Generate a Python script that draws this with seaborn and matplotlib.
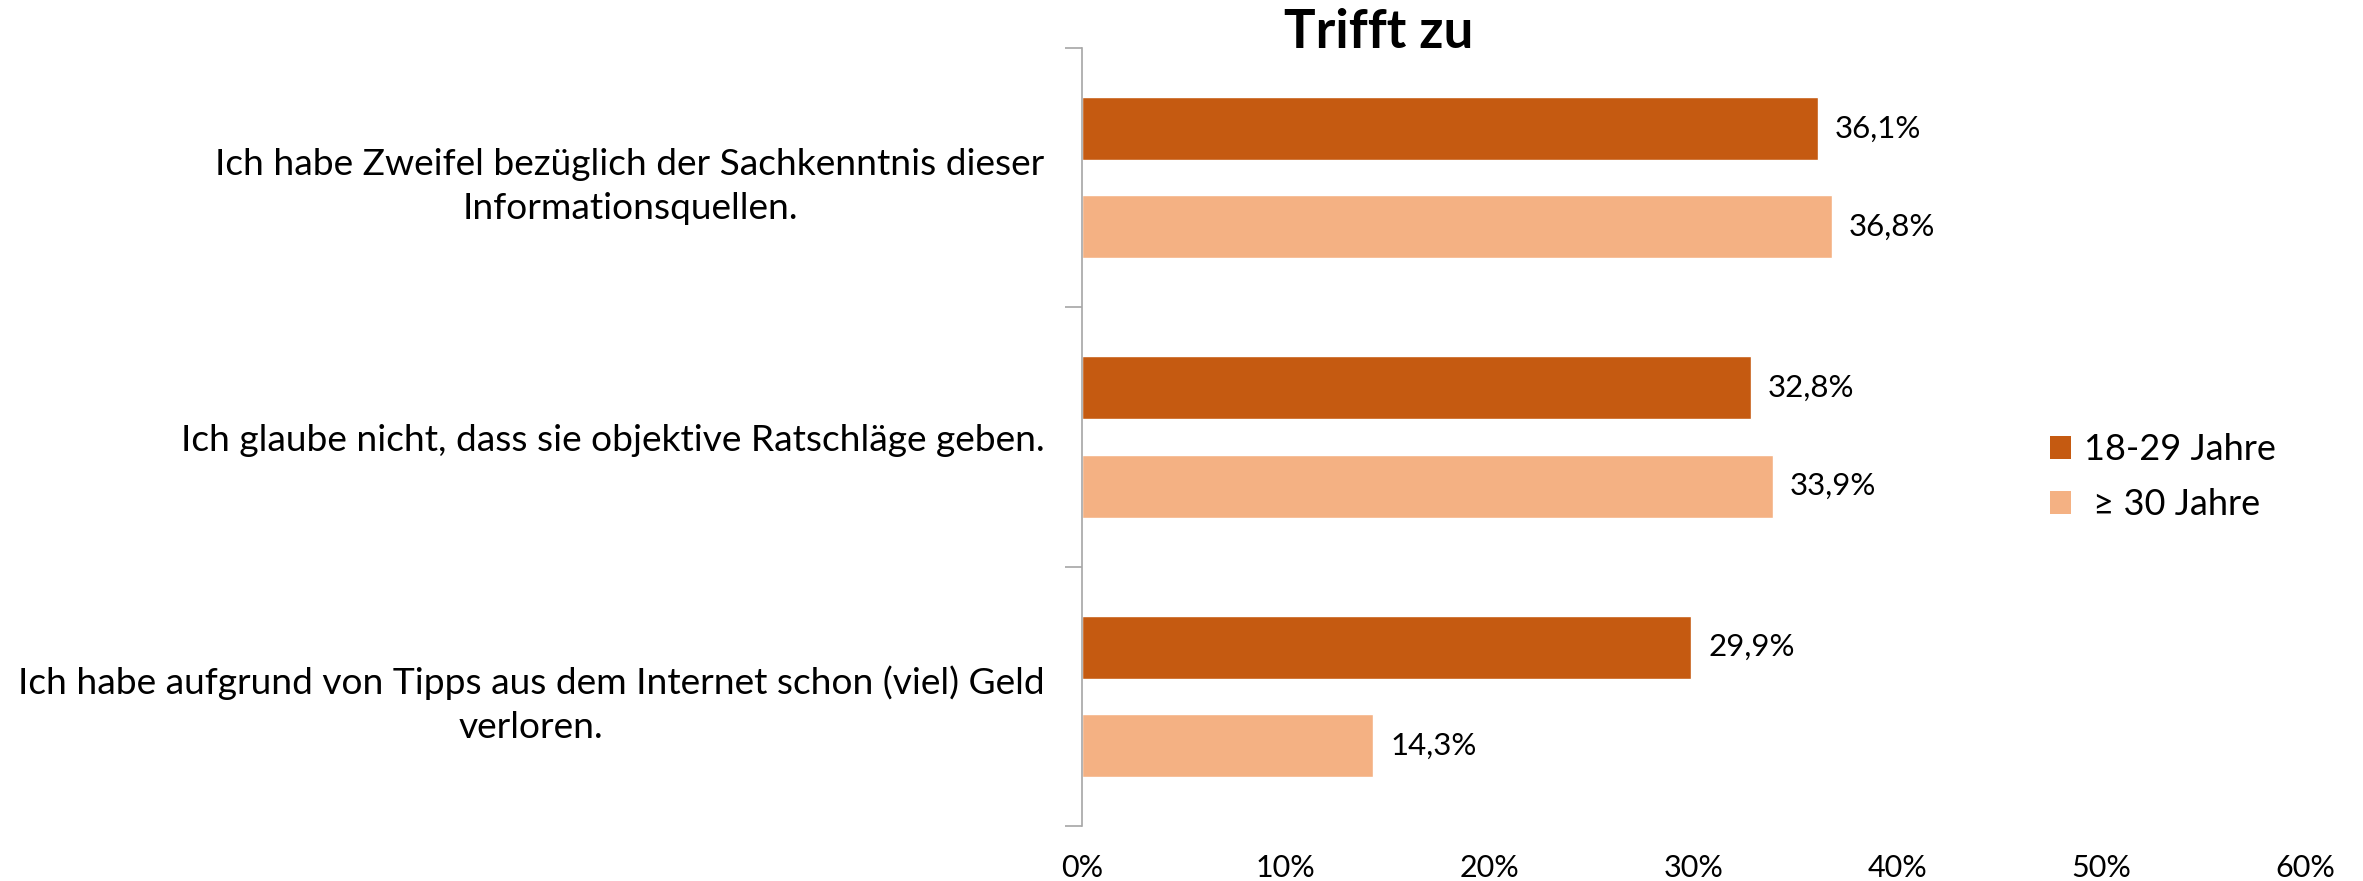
import matplotlib
matplotlib.use("Agg")
import matplotlib.pyplot as plt
import seaborn as sns
import pandas as pd
from matplotlib.patches import Patch
from matplotlib.ticker import FixedLocator

categories = [
    "Ich habe Zweifel bezüglich der Sachkenntnis dieser\nInformationsquellen.",
    "Ich glaube nicht, dass sie objektive Ratschläge geben.",
    "Ich habe aufgrund von Tipps aus dem Internet schon (viel) Geld\nverloren.",
]
groups = ["18-29 Jahre", "≥ 30 Jahre"]
legend_labels = ["18-29 Jahre", " ≥ 30 Jahre"]
values_young = [36.1, 32.8, 29.9]
values_old = [36.8, 33.9, 14.3]
xticks = [0, 10, 20, 30, 40, 50, 60]
title = "Trifft zu"
colors = ["#C55A11", "#F4B183"]

rows = []
for c, a, b in zip(categories, values_young, values_old):
    rows.append({"cat": c, "grp": groups[0], "val": a})
    rows.append({"cat": c, "grp": groups[1], "val": b})
df = pd.DataFrame(rows)

sns.set_style("white")
plt.rcParams["font.family"] = ["Lato", "DejaVu Sans"]
plt.rcParams["text.color"] = "black"
plt.rcParams["xtick.labelcolor"] = "black"
plt.rcParams["ytick.labelcolor"] = "black"

fig = plt.figure(figsize=(23.63, 8.81), dpi=100)
ax = fig.add_axes([1082 / 2363, 1 - 826 / 881, (2305 - 1082) / 2363, (826 - 48) / 881])

sns.barplot(data=df, y="cat", x="val", hue="grp", hue_order=groups, order=categories,
            palette=colors, orient="h", width=0.758, gap=0.359, saturation=1,
            legend=False, ax=ax)

for cont in ax.containers:
    ax.bar_label(cont, labels=[f"{v:.1f}%".replace(".", ",") for v in cont.datavalues],
                 padding=12, fontsize=22.5, color="black")

ax.set_xlim(0, 60)
ax.set_ylim(2.5, -0.5)
ax.set_xticks(xticks)
ax.set_xticklabels([f"{t}%" for t in xticks], fontsize=22)
ax.tick_params(axis="x", length=0, pad=20)
ax.set_xlabel("")
ax.set_ylabel("")

ax.set_yticks(range(len(categories)))
ax.set_yticklabels(categories, fontsize=26.7, ha="right", multialignment="center",
                   linespacing=1.42)
ax.yaxis.set_minor_locator(FixedLocator([-0.5, 0.5, 1.5, 2.5]))
ax.tick_params(axis="y", which="major", length=0, pad=27)
ax.tick_params(axis="y", which="minor", length=12, width=1.2, color="#A6A6A6", direction="out", left=True)

for s in ["top", "right", "bottom"]:
    ax.spines[s].set_visible(False)
ax.spines["left"].set_color("#A6A6A6")
ax.spines["left"].set_linewidth(1.2)

handles = [Patch(facecolor=c, edgecolor="none") for c in colors]
fig.legend(handles, legend_labels, loc="upper left", bbox_to_anchor=(2017 / 2363, 1 - 401 / 881),
           frameon=False, fontsize=26, handlelength=0.6, handleheight=0.6,
           handletextpad=0.35, labelspacing=0.6)

fig.text(1379 / 2363, 1 - 33 / 881, title, ha="center", va="center", fontsize=38,
         fontweight="bold", color="black")

fig.savefig("out.png", dpi=100)
